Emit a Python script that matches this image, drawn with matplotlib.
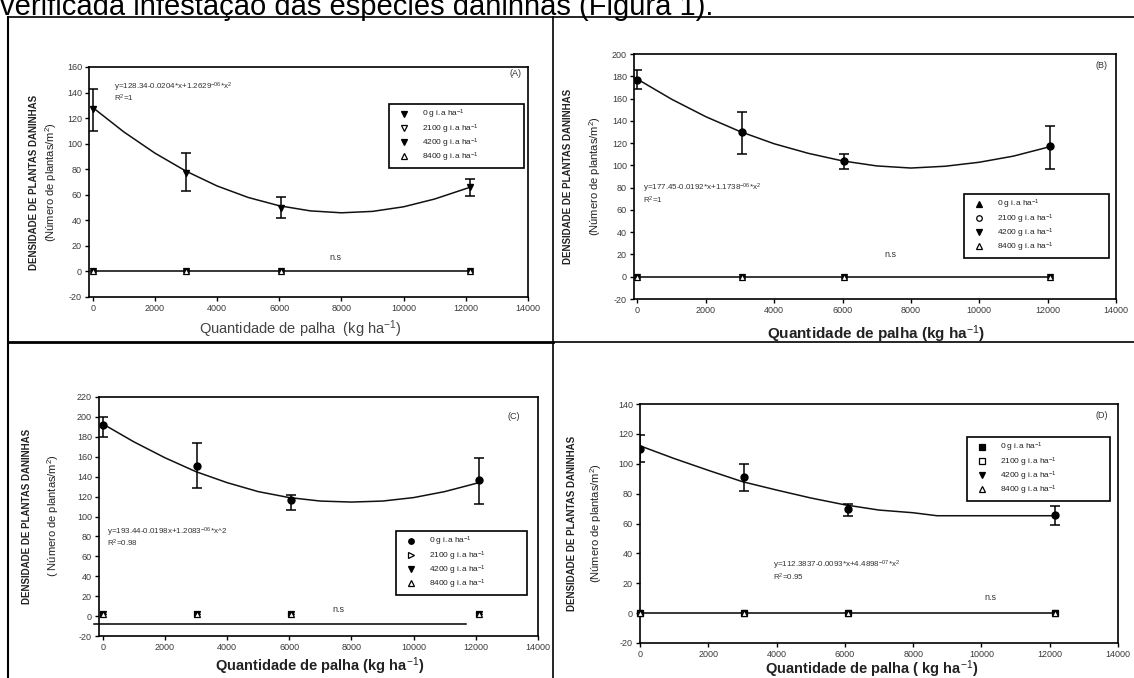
import matplotlib
matplotlib.use("Agg")
import matplotlib.pyplot as plt
from matplotlib.lines import Line2D

plt.rcParams['font.family'] = ['Liberation Sans', 'DejaVu Sans']
plt.rcParams['mathtext.fontset'] = 'custom'
plt.rcParams['mathtext.rm'] = 'Liberation Sans'
plt.rcParams['mathtext.it'] = 'Liberation Sans'
plt.rcParams['mathtext.bf'] = 'Liberation Sans:bold'
plt.rcParams['axes.unicode_minus'] = False

W, H = 1134, 678

# ---------------- data ----------------
legend_labels = ["0 g i.a ha$^{-1}$", "2100 g i.a ha$^{-1}$",
                 "4200 g i.a ha$^{-1}$", "8400 g i.a ha$^{-1}$"]
x_ticks = [0, 2000, 4000, 6000, 8000, 10000, 12000, 14000]

# Panel A
A_x = [0, 3000, 6050, 12150]
A_mean = [127, 77, 50, 66]
A_low = [110, 63, 42, 59]
A_high = [143, 93, 58, 72]
A_zero = [0, 0, 0, 0]
A_curve_x = [0, 1000, 2000, 3000, 4000, 5000, 6000, 7000, 8000, 9000, 10000, 11000, 12150]
A_curve_y = [128.3, 109.2, 92.6, 78.5, 66.9, 57.9, 51.4, 47.4, 45.9, 47.0, 50.6, 56.7, 66.0]
A_yticks = [-20, 0, 20, 40, 60, 80, 100, 120, 140, 160]

# Panel B
B_x = [0, 3050, 6050, 12070]
B_mean = [177, 130, 104, 117]
B_low = [169, 110, 97, 97]
B_high = [186, 148, 110, 135]
B_zero = [0, 0, 0, 0]
B_curve_x = [0, 1000, 2000, 3000, 4000, 5000, 6000, 7000, 8000, 9000, 10000, 11000, 12070]
B_curve_y = [177.4, 159.4, 143.7, 130.4, 119.4, 110.8, 104.0, 99.5, 97.6, 99.2, 102.8, 108.3, 116.8]
B_yticks = [-20, 0, 20, 40, 60, 80, 100, 120, 140, 160, 180, 200]

# Panel C
C_x = [0, 3030, 6050, 12100]
C_mean = [191.5, 151, 117, 137]
C_low = [180, 129, 107, 113]
C_high = [200, 174, 122, 159]
C_zero = [2, 2, 2, 2]
C_zero_line_x = [-280, 11700]
C_zero_line_y = [-8, -8]
C_curve_x = [0, 1000, 2000, 3000, 4000, 5000, 6000, 7000, 8000, 9000, 10000, 11000, 12100]
C_curve_y = [193, 175, 159, 145, 134, 125, 119, 115.5, 114.5, 115.5, 119, 125, 134]
C_yticks = [-20, 0, 20, 40, 60, 80, 100, 120, 140, 160, 180, 200, 220]

# Panel D
D_x = [0, 3050, 6080, 12160]
D_mean = [110, 91, 70, 65.5]
D_low = [101, 82, 65, 59]
D_high = [119, 100, 73, 72]
D_zero = [0, 0, 0, 0]
D_curve_x = [0, 1000, 2000, 3000, 4000, 5000, 6000, 7000, 8000, 8700, 10000, 11000, 12160]
D_curve_y = [112, 103.5, 95.6, 88.0, 82.4, 77.1, 72.5, 69.0, 67.2, 65.2, 65.2, 65.2, 65.2]
D_yticks = [-20, 0, 20, 40, 60, 80, 100, 120, 140]

eqA = "y=128.34-0.0204*x+1.2629$^{-06}$*x$^{2}$"
eqB = "y=177.45-0.0192*x+1.1738$^{-06}$*x$^{2}$"
eqC = "y=193.44-0.0198x+1.2083$^{-06}$*x^2"
eqD = "y=112.3837-0.0093*x+4.4898$^{-07}$*x$^{2}$"
r2A, r2B, r2C, r2D = "R$^{2}$=1", "R$^{2}$=1", "R$^{2}$=0.98", "R$^{2}$=0.95"

# ---------------- helpers ----------------
fig = plt.figure(figsize=(W / 100, H / 100), dpi=100)
fig.patch.set_facecolor('white')


def fx(x):
    return x / W


def fy(y):
    return 1 - y / H


def add_ax(l, r, t, b):
    return fig.add_axes([fx(l), fy(b), fx(r) - fx(l), fy(t) - fy(b)])


def ftext(x, y, s, **kw):
    fig.text(fx(x), fy(y), s, **kw)


def fline(xs, ys, lw=1.0, color='black'):
    fig.add_artist(Line2D([fx(v) for v in xs], [fy(v) for v in ys],
                          lw=lw, color=color, transform=fig.transFigure))


TICK_COLOR = '#3a3a3a'


def style_axes(ax, xlim, ylim, yticks):
    ax.set_xlim(*xlim)
    ax.set_ylim(*ylim)
    ax.set_xticks(x_ticks)
    ax.set_yticks(yticks)
    ax.tick_params(direction='out', length=3, width=1, labelsize=6.5,
                   colors='black', labelcolor=TICK_COLOR, pad=2)
    for sp in ax.spines.values():
        sp.set_linewidth(1.2)
    ax.set_facecolor('white')


def draw_panel(ax, x, mean, low, high, zero, cx, cy, main_marker, zero_markers,
               zero_line=None):
    yerr = [[m - lo for m, lo in zip(mean, low)], [hi - m for m, hi in zip(mean, high)]]
    ax.plot(cx, cy, color='#111111', lw=1.1, zorder=3)
    ax.errorbar(x, mean, yerr=yerr, fmt=main_marker, color='black', ms=5,
                capsize=3.5, elinewidth=1.1, capthick=1.1, zorder=4)
    if zero_line is None:
        ax.plot(x, zero, color='black', lw=1.1, zorder=3)
    else:
        ax.plot(zero_line[0], zero_line[1], color='black', lw=1.1, zorder=3, clip_on=False)
    for mk, mfc in zero_markers:
        ax.plot(x, zero, linestyle='none', marker=mk, color='black', mfc=mfc,
                ms=4, mew=0.9, zorder=5, clip_on=False)


def add_legend(ax, l, r, t, markers):
    handles = [Line2D([], [], linestyle='none', marker=mk, color='black', mfc=mfc,
                      ms=4, mew=0.9) for mk, mfc in markers]
    bb = ax.get_position()
    x0 = (fx(l) - bb.x0) / bb.width
    x1 = (fx(r) - bb.x0) / bb.width
    y0 = (fy(t) - bb.y0) / bb.height
    leg = ax.legend(handles, legend_labels, loc='upper left',
                    bbox_to_anchor=(x0, y0 - 0.5, x1 - x0, 0.5), mode='expand',
                    fontsize=6.0, frameon=True, fancybox=False, framealpha=1,
                    edgecolor='black', borderpad=0.5, labelspacing=0.1,
                    handlelength=2.6, handletextpad=0.9, borderaxespad=0)
    leg.get_frame().set_linewidth(1.2)
    for txt in leg.get_texts():
        txt.set_color('#222222')


# ---------------- frame lines & heading ----------------
ftext(0, 15, "verificada infestação das espécies daninhas (Figura 1).",
      fontsize=21, va='baseline', ha='left', color='black')
fline([8, 1134], [17, 17], lw=1.2)
fline([8, 8], [17, 678], lw=1.5)
fline([553, 553], [17, 678], lw=1.2)
fline([8, 553], [342, 342], lw=2.0)
fline([553, 1134], [342, 342], lw=1.2)

# ---------------- Panel A ----------------
axA = add_ax(89, 528, 67, 297)
style_axes(axA, (-120, 14000), (-20, 160), A_yticks)
draw_panel(axA, A_x, A_mean, A_low, A_high, A_zero, A_curve_x, A_curve_y, 'v',
           [('o', 'white'), ('v', 'black'), ('^', 'white')])
add_legend(axA, 389, 524, 104, [('v', 'black'), ('v', 'white'), ('v', 'black'), ('^', 'white')])
ftext(114, 87, eqA, fontsize=5.8, va='center', color='#333333')
ftext(114, 98, r2A, fontsize=5.8, va='center', color='#333333')
ftext(522, 74, "(A)", fontsize=6.5, ha='right', va='center', color='#333333')
ftext(335, 258, "n.s", fontsize=6.5, ha='center', va='center', color='#333333')
ftext(300, 329, "Quantidade de palha  (kg ha$^{-1}$)", fontsize=10.5, ha='center',
      va='center', color='#444444')
ftext(34, 182, "DENSIDADE DE PLANTAS DANINHAS", fontsize=7, rotation=90,
      ha='center', va='center', fontweight='bold', color='#222222')
ftext(51, 182, "(Número de plantas/m$^{2}$)", fontsize=8, rotation=90,
      ha='center', va='center', color='#222222')

# ---------------- Panel B ----------------
axB = add_ax(634, 1116, 54, 299)
style_axes(axB, (-100, 14000), (-20, 200), B_yticks)
draw_panel(axB, B_x, B_mean, B_low, B_high, B_zero, B_curve_x, B_curve_y, 'o',
           [('o', 'white'), ('v', 'black'), ('^', 'white')])
add_legend(axB, 964, 1109, 194, [('^', 'black'), ('o', 'white'), ('v', 'black'), ('^', 'white')])
ftext(643, 188, eqB, fontsize=5.8, va='center', color='#333333')
ftext(643, 200, r2B, fontsize=5.8, va='center', color='#333333')
ftext(1108, 65, "(B)", fontsize=6.5, ha='right', va='center', color='#333333')
ftext(890, 254, "n.s", fontsize=6.5, ha='center', va='center', color='#333333')
ftext(876, 334, "Quantidade de palha (kg ha$^{-1}$)", fontsize=11, ha='center',
      va='center', fontweight='bold', color='#222222')
ftext(568, 176, "DENSIDADE DE PLANTAS DANINHAS", fontsize=7, rotation=90,
      ha='center', va='center', fontweight='bold', color='#222222')
ftext(595, 176, "(Número de plantas/m$^{2}$)", fontsize=8, rotation=90,
      ha='center', va='center', color='#222222')

# ---------------- Panel C ----------------
axC = add_ax(99, 538, 397, 636)
style_axes(axC, (-120, 14000), (-20, 220), C_yticks)
draw_panel(axC, C_x, C_mean, C_low, C_high, C_zero, C_curve_x, C_curve_y, 'o',
           [('>', 'white'), ('v', 'black'), ('^', 'white')],
           zero_line=(C_zero_line_x, C_zero_line_y))
add_legend(axC, 396, 527, 531, [('o', 'black'), ('>', 'white'), ('v', 'black'), ('^', 'white')])
ftext(107, 532, eqC, fontsize=5.8, va='center', color='#333333')
ftext(107, 543, r2C, fontsize=5.8, va='center', color='#333333')
ftext(520, 417, "(C)", fontsize=6.5, ha='right', va='center', color='#333333')
ftext(338, 609, "n.s", fontsize=6.5, ha='center', va='center', color='#333333')
ftext(320, 666, "Quantidade de palha (kg ha$^{-1}$)", fontsize=10.5, ha='center',
      va='center', fontweight='bold', color='#222222')
ftext(27, 516, "DENSIDADE DE PLANTAS DANINHAS", fontsize=7, rotation=90,
      ha='center', va='center', fontweight='bold', color='#222222')
ftext(53, 516, "( Número de plantas/m$^{2}$)", fontsize=8, rotation=90,
      ha='center', va='center', color='#222222')

# ---------------- Panel D ----------------
axD = add_ax(640, 1118, 404, 643)
style_axes(axD, (0, 14000), (-20, 140), D_yticks)
draw_panel(axD, D_x, D_mean, D_low, D_high, D_zero, D_curve_x, D_curve_y, 'o',
           [('s', 'white'), ('v', 'black'), ('^', 'white')])
add_legend(axD, 967, 1110, 437, [('s', 'black'), ('s', 'white'), ('v', 'black'), ('^', 'white')])
ftext(773, 565, eqD, fontsize=5.8, va='center', color='#333333')
ftext(773, 577, r2D, fontsize=5.8, va='center', color='#333333')
ftext(1108, 416, "(D)", fontsize=6.5, ha='right', va='center', color='#333333')
ftext(990, 598, "n.s", fontsize=6.5, ha='center', va='center', color='#333333')
ftext(872, 669, "Quantidade de palha ( kg ha$^{-1}$)", fontsize=10.5, ha='center',
      va='center', fontweight='bold', color='#222222')
ftext(572, 523, "DENSIDADE DE PLANTAS DANINHAS", fontsize=7, rotation=90,
      ha='center', va='center', fontweight='bold', color='#222222')
ftext(596, 523, "(Número de plantas/m$^{2}$)", fontsize=8, rotation=90,
      ha='center', va='center', color='#222222')

fig.savefig("out.png", dpi=100, facecolor='white')
